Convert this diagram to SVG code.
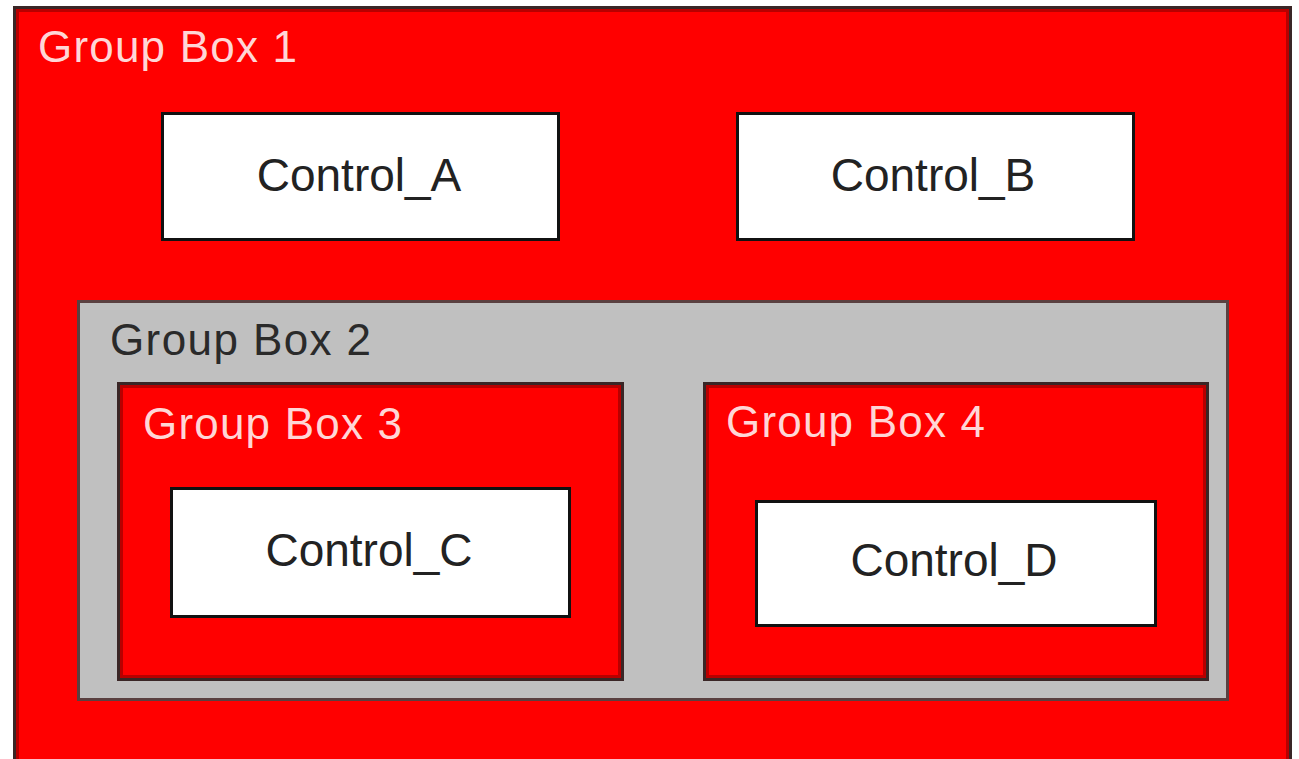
<svg xmlns="http://www.w3.org/2000/svg" width="1299" height="759" viewBox="0 0 1299 759">
<style>
.red{fill:#ff0000;stroke:#3a2626;stroke-width:3}
.gray{fill:#c0c0c0;stroke:#5a4040;stroke-width:3}
.ctl{fill:#ffffff;stroke:#111111;stroke-width:3}
.inr{fill:none;stroke:#b80000;stroke-width:3}
text{font-family:"Liberation Sans",Arial,sans-serif}
.lw{fill:#ffd6d6;font-size:44px;letter-spacing:1.2px}
.lk{fill:#2a2a2a;font-size:44px;letter-spacing:1.4px}
.ct{fill:#222222;font-size:46px;text-anchor:middle}
</style>
<rect width="1299" height="759" fill="#ffffff"/>
<g id="groupbox1">
<rect class="red" x="14.5" y="7.5" width="1276" height="770"/>
<rect class="inr" x="17.5" y="10.5" width="1270" height="770"/>
<text class="lw" x="38" y="62">Group Box 1</text>
</g>
<g id="control_a">
<rect class="ctl" x="162.5" y="113.5" width="396" height="126"/>
<text class="ct" x="359" y="191">Control_A</text>
</g>
<g id="control_b">
<rect class="ctl" x="737.5" y="113.5" width="396" height="126"/>
<text class="ct" x="933" y="191">Control_B</text>
</g>
<g id="groupbox2">
<rect class="gray" x="78.5" y="301.5" width="1149" height="398"/>
<text class="lk" x="110" y="355">Group Box 2</text>
</g>
<g id="groupbox3">
<rect class="red" x="118.5" y="383.5" width="504" height="296"/>
<rect class="inr" x="121.5" y="386.5" width="498" height="290"/>
<text class="lw" x="143" y="439">Group Box 3</text>
</g>
<g id="groupbox4">
<rect class="red" x="704.5" y="383.5" width="503" height="296"/>
<rect class="inr" x="707.5" y="386.5" width="497" height="290"/>
<text class="lw" x="726" y="437">Group Box 4</text>
</g>
<g id="control_c">
<rect class="ctl" x="171.5" y="488.5" width="398" height="128"/>
<text class="ct" x="369" y="566">Control_C</text>
</g>
<g id="control_d">
<rect class="ctl" x="756.5" y="501.5" width="399" height="124"/>
<text class="ct" x="954" y="576">Control_D</text>
</g>
<g id="connectors"></g>
</svg>
